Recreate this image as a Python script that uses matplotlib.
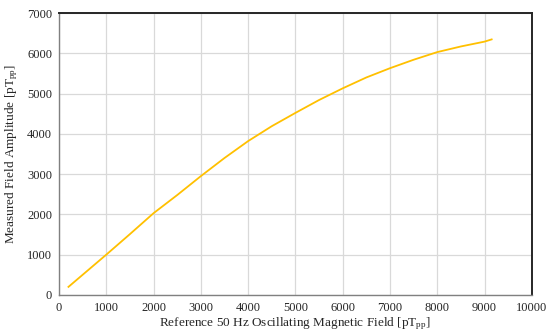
import matplotlib
matplotlib.use("Agg")
import matplotlib.pyplot as plt

# Werte
ref_field = [200, 500, 1000, 1500, 2000, 2500, 3000, 3500, 4000, 4500, 5000,
             5500, 6000, 6500, 7000, 7500, 8000, 8500, 9000, 9150]
measured = [200, 500, 1000, 1510, 2030, 2480, 2950, 3400, 3820, 4190, 4520,
            4840, 5130, 5400, 5630, 5840, 6030, 6170, 6290, 6345]

plt.rcParams['font.family'] = ['Liberation Serif', 'DejaVu Serif']
plt.rcParams['mathtext.default'] = 'regular'

fig = plt.figure(figsize=(5.54, 3.34), dpi=100)
ax = fig.add_axes([0.1065, 0.117, 0.8535, 0.844])

ax.plot(ref_field, measured, color='#FFC000', linewidth=1.3)

ax.set_xlim(0, 10000)
ax.set_ylim(0, 7000)
ax.set_xticks(range(0, 10001, 1000))
ax.set_yticks(range(0, 7001, 1000))
ax.grid(True, color='#D9D9D9', linewidth=0.9)
ax.set_axisbelow(True)
ax.tick_params(length=0, labelsize=9, colors='#262626', pad=5)

for side in ['left', 'bottom']:
    ax.spines[side].set_color('#808080')
    ax.spines[side].set_linewidth(1.0)
for side in ['top', 'right']:
    ax.spines[side].set_color('#262626')
    ax.spines[side].set_linewidth(1.4)

ax.set_xlabel('Reference 50 Hz Oscillating Magnetic Field [pT$_{pp}$]', fontsize=9.5, color='#262626', labelpad=1)
ax.set_ylabel('Measured Field Amplitude [pT$_{pp}$]', fontsize=9.5, color='#262626', labelpad=5)

fig.savefig('out.png', dpi=100)
